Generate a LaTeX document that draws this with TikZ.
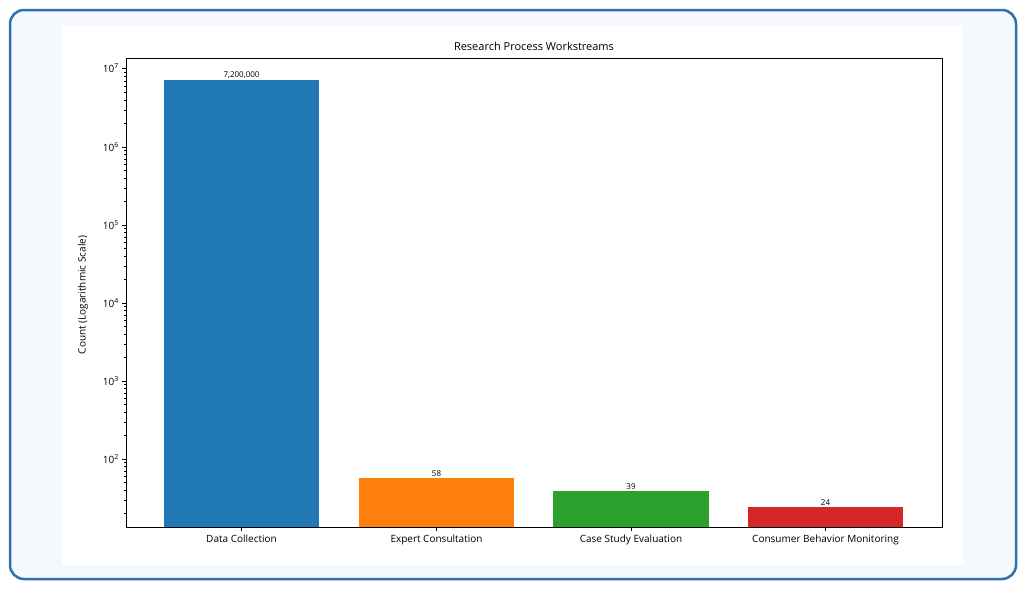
\documentclass[tikz,border=0pt]{standalone}
\usepackage{fontspec}
\setmainfont{Open Sans}
\usepackage{tikz}
\usetikzlibrary{positioning}
\definecolor{tabblue}{HTML}{1F77B4}
\definecolor{taborange}{HTML}{FF7F0E}
\definecolor{tabgreen}{HTML}{2CA02C}
\definecolor{tabred}{HTML}{D62728}
\definecolor{frameblue}{HTML}{2E6FB0}
\definecolor{pagebg}{HTML}{F5F8FD}
\tikzset{
    bar/.style={draw=none},
    valuelabel/.style={above, inner sep=1pt, font=\fontsize{8}{9}\selectfont},
    ticklabel/.style={font=\fontsize{10}{12}\selectfont},
}
\begin{document}
\begin{tikzpicture}[x=1pt, y=-1pt]
    \useasboundingbox (0,0) rectangle (1026,589);

    % frame
    \draw[frameblue, line width=2.5pt, fill=pagebg, rounded corners=14pt]
        (10,10) rectangle (1016,579);
    \fill[white] (62,25) rectangle (963,565);

    % bars
    \foreach \xa/\xb/\top/\co/\val in {
        164/319/80/tabblue/{7,200,000},
        359/514/477.5/taborange/58,
        553/709/491/tabgreen/39,
        748/903/507/tabred/24}
    {
        \fill[\co] (\xa,\top) rectangle (\xb,527);
        \node[valuelabel] at ({(\xa+\xb)/2},\top) {\val};
    }

    % axes box
    \draw[black, line width=0.8pt] (126,58) rectangle (942,527);

    % major ticks
    \foreach \e/\y in {2/459,3/381,4/303,5/225,6/147,7/68}
    {
        \draw (126,\y) -- (122,\y);
        \node[ticklabel, left, inner sep=2pt] at (121,\y) {10\textsuperscript{\e}};
    }

    % minor ticks
    \foreach \d in {1,...,6}
    {
        \foreach \m in {2,...,9}
        {
            \pgfmathsetmacro{\yy}{459 - (\d-2+log10(\m))*78}
            \pgfmathparse{(\yy<527 && \yy>58) ? 1 : 0}
            \ifnum\pgfmathresult=1
                \draw[line width=0.5pt] (126,\yy) -- (123.5,\yy);
            \fi
        }
    }

    % category labels
    \foreach \x/\name in {
        241.5/Data Collection,
        436.5/Expert Consultation,
        631/Case Study Evaluation,
        825.5/Consumer Behavior Monitoring}
    {
        \draw (\x,527) -- (\x,531);
        \node[ticklabel, below, inner sep=2pt] at (\x,533) {\name};
    }

    % titles
    \node[font=\fontsize{11}{13}\selectfont] (title) at (534,46) {Research Process Workstreams};
    \node[ticklabel, rotate=90] (ylabel) at (83,295) {Count (Logarithmic Scale)};
\end{tikzpicture}
\end{document}
